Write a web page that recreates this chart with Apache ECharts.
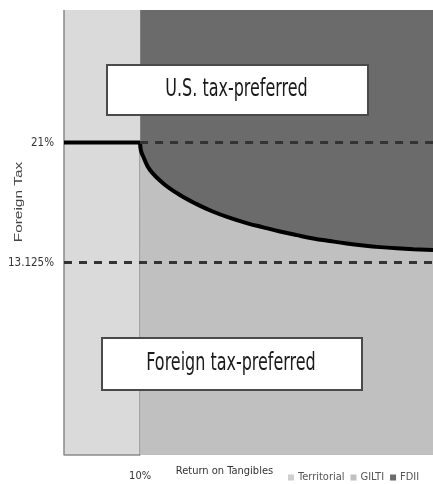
<!DOCTYPE html>
<html>
<head>
<meta charset="utf-8">
<script src="https://cdn.jsdelivr.net/npm/echarts@6/dist/echarts.min.js"></script>
<style>
  html, body { margin: 0; padding: 0; background: #fff; }
  #chart { width: 433px; height: 484px; }
</style>
</head>
<body>
<div id="chart"></div>
<script>
// Axis ranges (percent)
const returnRange = [0, 48.5];
const taxRange = [0.5, 29.7];

// Thresholds
const territorialEdge = 10;      // return on tangibles where territorial region ends
const usRate = 21;               // U.S. corporate rate
const giltiRate = 13.125;        // GILTI effective rate

// FDII break-even curve
const curveReturn = [10, 10.1, 10.42, 11.3, 13.05, 15.24, 17.44, 19.62, 21.82, 24.01, 26.2, 28.39,
  30.59, 32.77, 34.96, 37.16, 39.34, 41.54, 43.73, 45.91, 48.5];
const curveTax = [21, 20.5, 20.07, 19.2, 18.32, 17.56, 16.96, 16.46, 16.06, 15.72, 15.44, 15.17,
  14.93, 14.71, 14.54, 14.38, 14.25, 14.14, 14.06, 14.0, 13.95];

// Tick labels
const taxTicks = [giltiRate, usRate];
const returnTicks = [territorialEdge];

const legendNames = ['Territorial', 'GILTI', 'FDII'];

const colors = {
  territorial: '#dadada',
  gilti: '#c0c0c0',
  fdii: '#6b6b6b'
};

const narrow = '"Liberation Sans Narrow", "DejaVu Sans Condensed", sans-serif';

const chart = echarts.init(document.getElementById('chart'));

const curve = curveReturn.map((x, i) => [x, curveTax[i]]);
const [xMin, xMax] = returnRange;
const [yMin, yMax] = taxRange;

const dashed = {
  color: '#333',
  width: 3,
  type: [8, 7]
};

// scaled text (the original uses a condensed face)
function squeezedText(cx, cy, text, font, sx, rotation, fill) {
  return {
    type: 'group',
    x: cx,
    y: cy,
    rotation: rotation || 0,
    children: [{
      type: 'group',
      scaleX: sx,
      children: [{
        type: 'text',
        style: {
          text: text,
          font: font,
          fill: fill || '#222',
          textAlign: 'center',
          textVerticalAlign: 'middle'
        },
        z: 11
      }]
    }]
  };
}

// text box helper for the two annotations
function labelBox(cx, cy, w, h, text, textX, textY) {
  return {
    type: 'group',
    children: [
      {
        type: 'rect',
        shape: { x: cx - w / 2, y: cy - h / 2, width: w, height: h },
        style: { fill: '#fff', stroke: '#4a4a4a', lineWidth: 2 },
        z: 10
      },
      squeezedText(textX, textY, text, '500 24px ' + narrow, 0.74, 0, '#1a1a1a')
    ]
  };
}

const option = {
  animation: false,
  grid: {
    left: 64,
    right: 0,
    top: 10,
    bottom: 29,
    outerBoundsMode: 'none'
  },
  legend: {
    data: [
      { name: legendNames[0], itemStyle: { color: '#cfcfcf' } },
      { name: legendNames[1], itemStyle: { color: colors.gilti } },
      { name: legendNames[2], itemStyle: { color: colors.fdii } }
    ],
    icon: 'rect',
    itemWidth: 6,
    itemHeight: 6,
    itemGap: 6,
    left: 288,
    top: 472,
    padding: 0,
    selectedMode: false,
    textStyle: {
      fontFamily: narrow,
      fontSize: 11,
      color: '#555',
      padding: [0, 0, 0, -1]
    }
  },
  xAxis: {
    type: 'value',
    min: xMin,
    max: xMax,
    axisLine: { show: false },
    axisTick: { show: false },
    splitLine: { show: false },
    axisLabel: {
      customValues: returnTicks,
      formatter: v => v + '%',
      margin: 16,
      fontFamily: narrow,
      fontSize: 11,
      color: '#333'
    }
  },
  yAxis: {
    type: 'value',
    min: yMin,
    max: yMax,
    axisLine: { show: false },
    axisTick: { show: false },
    splitLine: { show: false },
    axisLabel: {
      customValues: taxTicks,
      formatter: v => v + '%',
      margin: 10,
      fontFamily: narrow,
      fontSize: 11.5,
      color: '#333'
    }
  },
  series: [
    {
      name: 'FDII',
      type: 'line',
      data: [[territorialEdge, yMax], [xMax, yMax]],
      symbol: 'none',
      lineStyle: { width: 0 },
      itemStyle: { color: colors.fdii },
      areaStyle: { color: colors.fdii, opacity: 1, origin: 'start' },
      z: 1
    },
    {
      name: 'Territorial',
      type: 'line',
      data: [[xMin, yMax], [territorialEdge, yMax]],
      symbol: 'none',
      lineStyle: { width: 0 },
      itemStyle: { color: colors.territorial },
      areaStyle: { color: colors.territorial, opacity: 1, origin: 'start' },
      z: 1
    },
    {
      name: 'GILTI',
      type: 'line',
      data: curve,
      symbol: 'none',
      smooth: 0.4,
      lineStyle: { color: '#000', width: 4 },
      itemStyle: { color: colors.gilti },
      areaStyle: { color: colors.gilti, opacity: 1, origin: 'start' },
      z: 3
    },
    {
      // outline of the territorial strip
      type: 'line',
      data: [[xMin, yMax], [xMin, yMin], [territorialEdge, yMin], [territorialEdge, usRate]],
      symbol: 'none',
      clip: false,
      lineStyle: { color: '#8a8a8a', width: 1.5 },
      z: 2
    },
    {
      type: 'line',
      data: [[xMin, usRate], [territorialEdge, usRate]],
      symbol: 'none',
      lineStyle: { color: '#000', width: 4 },
      z: 4
    },
    {
      type: 'line',
      data: [[territorialEdge, usRate], [xMax, usRate]],
      symbol: 'none',
      lineStyle: dashed,
      z: 4
    },
    {
      type: 'line',
      data: [[xMin, giltiRate], [xMax, giltiRate]],
      symbol: 'none',
      lineStyle: dashed,
      z: 4
    }
  ],
  graphic: [
    labelBox(237.5, 90, 261, 50, 'U.S. tax-preferred', 236.5, 90),
    labelBox(232, 364, 260, 52, 'Foreign tax-preferred', 231, 364),
    squeezedText(19, 202, 'Foreign Tax', '11px "Liberation Sans", Arial, sans-serif', 1.4, Math.PI / 2, '#444'),
    squeezedText(224.5, 471, 'Return on Tangibles', '11px ' + narrow, 1, 0, '#333')
  ]
};

chart.setOption(option);
</script>
</body>
</html>
